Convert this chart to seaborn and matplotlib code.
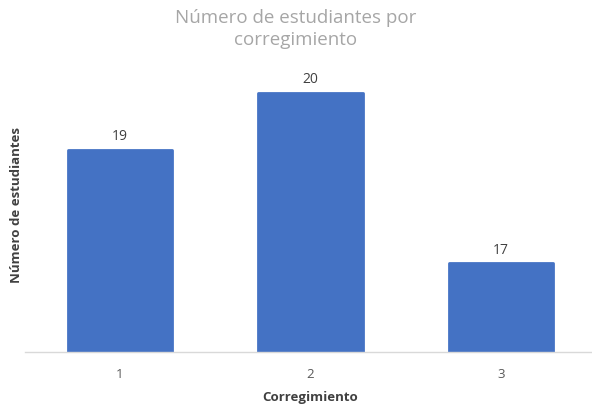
import matplotlib
matplotlib.use("Agg")
import matplotlib.pyplot as plt
import seaborn as sns
import pandas as pd

# ── Data ──────────────────────────────────────
corregimientos = ["1", "2", "3"]
estudiantes = [19, 20, 17]

df = pd.DataFrame({"Corregimiento": corregimientos, "Estudiantes": estudiantes})

sns.set_style("white")
plt.rcParams['font.family'] = ['Open Sans', 'DejaVu Sans']

fig = plt.figure(figsize=(5.92, 4.09), dpi=100)
ax = fig.add_axes([0.0418, 0.139, 0.965, 0.718])

bar_color = "#4472C4"
sns.barplot(data=df, x="Corregimiento", y="Estudiantes", ax=ax,
            color=bar_color, width=0.548, saturation=1)

# slightly rounded corners like the original
for p in ax.patches:
    p.set_edgecolor(bar_color)
    p.set_linewidth(2)
    p.set_joinstyle("round")

ax.set_ylim(15.44, 20.6)
ax.set_xlim(-0.5, 2.5)

for i, v in enumerate(estudiantes):
    ax.text(i, v + 0.1, str(v), ha="center", va="bottom",
            fontsize=10, color="#404040")

ax.set_yticks([])
sns.despine(ax=ax, left=True, top=True, right=True)
ax.spines["bottom"].set_color("#D9D9D9")
ax.spines["bottom"].set_linewidth(1)
ax.tick_params(axis="x", length=0, labelsize=9.5, labelcolor="#595959", pad=11.5)

ax.set_xlabel("Corregimiento", fontsize=9.5, fontweight="bold",
              color="#404040", labelpad=7)
ax.set_ylabel("Número de estudiantes", fontsize=9.5, fontweight="bold",
              color="#404040", labelpad=1)

fig.text(0.5, 0.978, "Número de estudiantes por\ncorregimiento",
         ha="center", va="top", fontsize=13.5, color="#A6A6A6",
         linespacing=1.3)

plt.savefig("out.png", dpi=100)
